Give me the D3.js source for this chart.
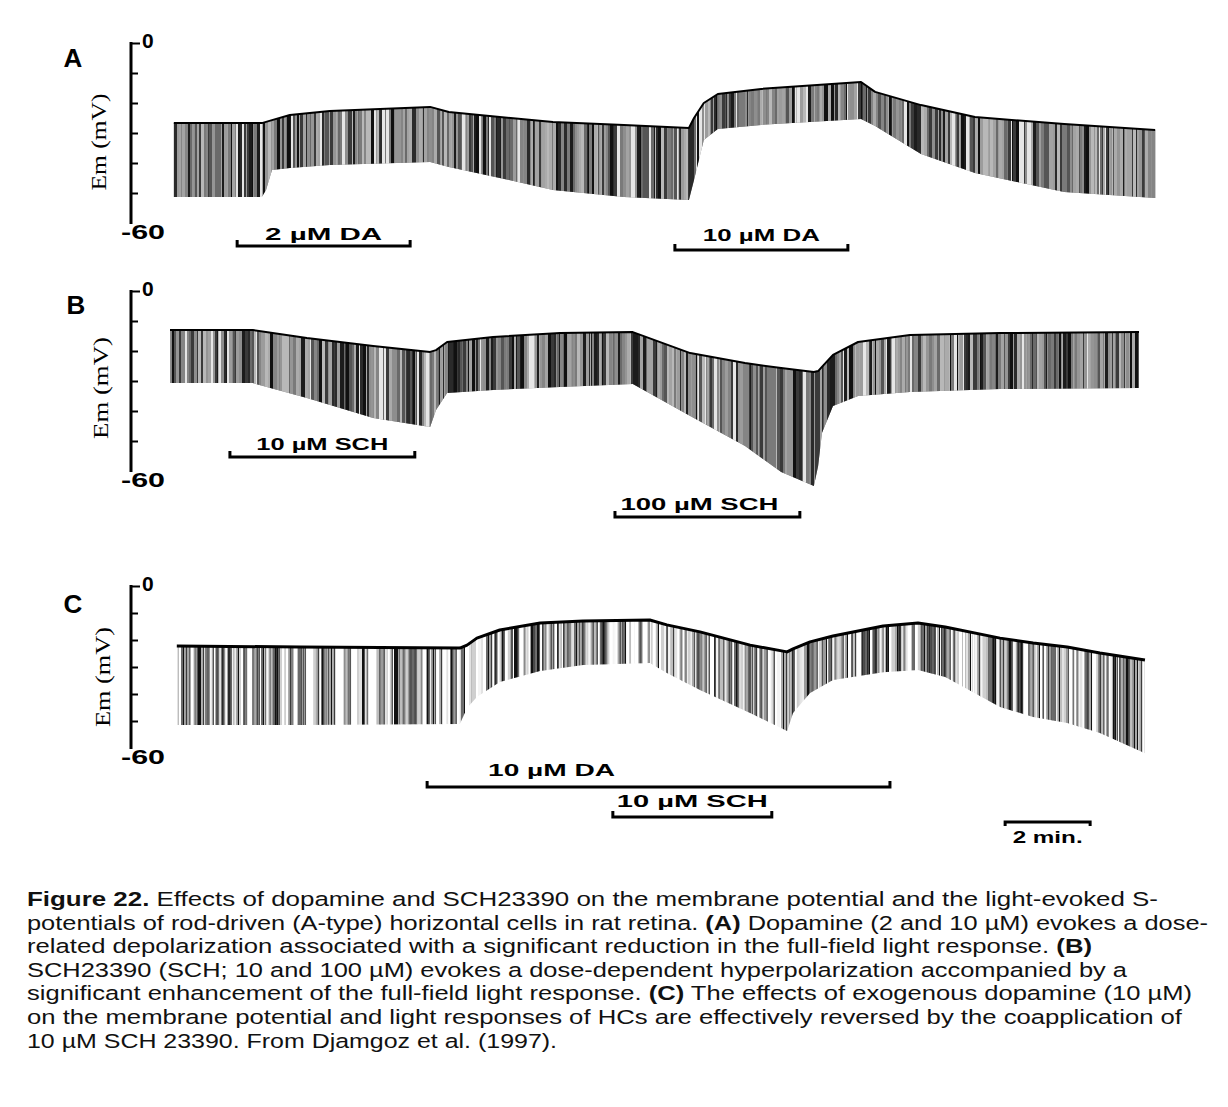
<!DOCTYPE html>
<html><head><meta charset="utf-8">
<script src="https://cdn.jsdelivr.net/npm/d3@7"></script>
<style>body{margin:0;background:#fff}svg{display:block}</style>
</head><body>
<svg id="chart" width="1228" height="1107"></svg>
<script>
// ================= DATA =================
const yTickValues = [0, -10, -20, -30, -40, -50, -60];
const yDomain = [0, -60];
const timeDomain = [0, 24]; // minutes

// Panel A  (time in min, membrane potential in mV: top = resting level, bottom = light-response peak)
const aTime   = [0.09, 2.16, 2.26, 2.40, 2.82, 3.76, 6.12, 6.56, 7.76, 9.01, 10.68, 12.21, 12.33, 12.56, 12.89, 13.91, 16.26, 16.59, 17.67, 18.94, 21.04, 23.18];
const aTop    = [-26.7, -26.7, -26.3, -25.7, -24.0, -22.7, -21.3, -23.0, -24.7, -26.3, -27.3, -28.3, -25.0, -20.0, -17.0, -15.3, -13.0, -16.3, -20.7, -24.7, -27.0, -29.0];
const aBottom = [-51.3, -51.3, -49.0, -42.3, -41.7, -40.7, -39.7, -41.3, -45.0, -49.0, -51.3, -52.3, -45.7, -32.3, -28.7, -27.3, -25.3, -27.7, -37.0, -43.3, -49.7, -51.7];

// Panel B
const bTime   = [0.00, 1.95, 3.22, 4.78, 6.12, 6.26, 6.52, 7.60, 9.18, 10.89, 12.24, 13.53, 14.38, 15.15, 15.25, 15.34, 15.60, 16.19, 17.41, 19.53, 22.80];
const bTop    = [-13.0, -13.0, -15.7, -18.3, -20.3, -19.7, -17.0, -15.3, -14.0, -13.7, -20.7, -24.0, -25.7, -27.0, -26.7, -25.3, -21.3, -17.0, -14.7, -14.0, -13.7];
const bBottom = [-30.7, -30.7, -35.7, -42.3, -45.3, -39.7, -34.0, -33.0, -32.0, -31.0, -41.7, -51.7, -60.3, -65.0, -58.3, -47.3, -38.3, -35.0, -33.7, -32.7, -32.3];

// Panel C
const cTime   = [0.16, 3.06, 6.82, 6.99, 7.22, 7.76, 8.71, 9.72, 11.29, 11.69, 12.47, 13.65, 14.52, 14.66, 15.06, 15.60, 16.78, 17.60, 18.24, 19.53, 20.31, 21.11, 21.88, 22.94];
const cTop    = [-22.2, -22.6, -23.0, -21.9, -19.3, -16.3, -13.7, -13.0, -12.6, -14.4, -17.0, -21.9, -24.4, -23.3, -20.7, -18.5, -14.8, -13.7, -15.2, -19.3, -21.1, -22.6, -24.8, -27.4];
const cBottom = [-51.5, -51.5, -51.1, -45.2, -41.1, -35.6, -31.5, -29.3, -28.5, -32.2, -38.5, -47.0, -53.7, -47.0, -39.6, -34.8, -31.9, -31.1, -33.7, -44.8, -48.5, -50.7, -54.4, -61.9];

// Drug applications (minutes)
const aDrugLabels = ["2 µM DA", "10 µM DA"];
const aDrugStart  = [1.58, 11.88];
const aDrugEnd    = [5.65, 15.95];
const bDrugLabels = ["10 µM SCH", "100 µM SCH"];
const bDrugStart  = [1.41, 10.47];
const bDrugEnd    = [5.76, 14.82];
const cDrugLabels = ["10 µM DA", "10 µM SCH"];
const cDrugStart  = [6.05, 10.42];
const cDrugEnd    = [16.94, 14.16];

const scaleBarLabel = "2 min.";
const scaleBarStart = 19.65;
const scaleBarLength = 2;

const panelLetters = ["A", "B", "C"];
const yAxisTitle = "Em (mV)";

const captionLines = [
  [["Figure 22.", true], [" Effects of dopamine and SCH23390 on the membrane potential and the light-evoked S-", false]],
  [["potentials of rod-driven (A-type) horizontal cells in rat retina. ", false], ["(A)", true], [" Dopamine (2 and 10 µM) evokes a dose-", false]],
  [["related depolarization associated with a significant reduction in the full-field light response. ", false], ["(B)", true]],
  [["SCH23390 (SCH; 10 and 100 µM) evokes a dose-dependent hyperpolarization accompanied by a", false]],
  [["significant enhancement of the full-field light response. ", false], ["(C)", true], [" The effects of exogenous dopamine (10 µM)", false]],
  [["on the membrane potential and light responses of HCs are effectively reversed by the coapplication of", false]],
  [["10 µM SCH 23390. From Djamgoz et al. (1997).", false]]
];

// ================= LAYOUT =================
const layout = {
  A: {y0: 43,  y1: 223, letter: [73, 67],  title: [98, 142],  titleLen: 97,  style: "dense", seed: 1,
      bars: [{y: 246, ly: -6, lx: 0, lw: 117}, {y: 250, ly: -9, lx: 0, lw: 117}]},
  B: {y0: 291, y1: 471, letter: [76, 314], title: [100, 388], titleLen: 102, style: "dense", seed: 2,
      bars: [{y: 457, ly: -7, lx: 0, lw: 132}, {y: 517, ly: -7, lx: -8, lw: 158}]},
  C: {y0: 586, y1: 748, letter: [73, 613], title: [102, 677], titleLen: 100, style: "light", seed: 3,
      bars: [{y: 787, ly: -11, lx: -107, lw: 127}, {y: 817, ly: -10, lx: 0, lw: 151}]}
};
const axisX = 131;
const captionWidths = [1131, 1181, 1065, 1100, 1165, 1155, 530];

// ================= DRAW =================
const svg = d3.select("#chart");
const x = d3.scaleLinear().domain(timeDomain).range([170, 1190]);
const sans = "'Liberation Sans', Arial, Helvetica, sans-serif";
const serif = "'Liberation Serif', 'Times New Roman', serif";

const panels = [
  {key: "A", time: aTime, top: aTop, bottom: aBottom, labels: aDrugLabels, s: aDrugStart, e: aDrugEnd},
  {key: "B", time: bTime, top: bTop, bottom: bBottom, labels: bDrugLabels, s: bDrugStart, e: bDrugEnd},
  {key: "C", time: cTime, top: cTop, bottom: cBottom, labels: cDrugLabels, s: cDrugStart, e: cDrugEnd}
];

function hash(i, seed) {
  const v = Math.sin(i * 12.9898 + seed * 78.233) * 43758.5453;
  return v - Math.floor(v);
}
const densePalette = ["#101010", "#1c1c1c", "#2a2a2a", "#3a3a3a", "#555", "#6a6a6a", "#7a7a7a", "#858585", "#8e8e8e", "#959595", "#9c9c9c", "#a3a3a3", "#ababab", "#b8b8b8", "#e6e6e6"];
const lightPalette = ["#fff", "#fff", "#fff", "#f4f4f4", "#e2e2e2", "#cfcfcf", "#bdbdbd", "#a8a8a8", "#9a9a9a", "#6a6a6a", "#2a2a2a", "#111"];

const defs = svg.append("defs");

panels.forEach((p, pi) => {
  const L = layout[p.key];
  const y = d3.scaleLinear().domain(yDomain).range([L.y0, L.y1]);
  const data = p.time.map((t, i) => ({t, top: p.top[i], bottom: p.bottom[i]}));
  const g = svg.append("g");

  // clip area (response envelope)
  const area = d3.area().x(d => x(d.t)).y0(d => y(d.bottom)).y1(d => y(d.top));
  defs.append("clipPath").attr("id", "clip" + p.key)
    .append("path").attr("d", area(data));

  const sg = g.append("g").attr("clip-path", `url(#clip${p.key})`);
  const x0 = Math.floor(x(data[0].t)), x1 = Math.ceil(x(data[data.length - 1].t));
  const pal = L.style === "dense" ? densePalette : lightPalette;
  sg.append("rect").attr("x", x0).attr("y", L.y0 - 40).attr("width", x1 - x0)
    .attr("height", L.y1 - L.y0 + 120).attr("fill", L.style === "dense" ? "#8c8c8c" : "#fff");
  let xx = x0, i = 0;
  while (xx < x1) {
    const r1 = hash(i, L.seed), r2 = hash(i + 5000, L.seed);
    const w = L.style === "dense" ? 1 + Math.floor(r1 * 3) : 1 + Math.floor(r1 * 2.2);
    const col = pal[Math.floor(r2 * pal.length)];
    sg.append("rect").attr("x", xx).attr("y", L.y0 - 40).attr("width", w)
      .attr("height", L.y1 - L.y0 + 120).attr("fill", col);
    if (L.style === "light" && r2 > 0.55) {
      sg.append("rect").attr("x", xx + w).attr("y", L.y0 - 40).attr("width", 1.2)
        .attr("height", L.y1 - L.y0 + 120).attr("fill", r1 > 0.5 ? "#111" : "#555");
      xx += 1.2;
    }
    xx += w; i++;
  }

  // top edge (resting membrane potential)
  g.append("path").attr("d", d3.line().x(d => x(d.t)).y(d => y(d.top))(data))
    .attr("fill", "none").attr("stroke", "#000")
    .attr("stroke-width", L.style === "dense" ? 2 : 3).attr("stroke-linejoin", "round");

  // y axis
  const axis = d3.axisRight(y).tickValues(yTickValues).tickSize(7).tickPadding(3)
    .tickFormat(d => d === 0 ? "0" : "");
  const ag = g.append("g").attr("transform", `translate(${axisX},0)`).call(axis);
  ag.select(".domain").attr("stroke", "#000").attr("stroke-width", 3)
    .attr("d", `M0,${L.y0 - 1}V${L.y1 + 1}`);
  ag.selectAll(".tick line").attr("stroke", "#000").attr("stroke-width", 2);
  ag.selectAll(".tick").filter(d => d === 0).select("line").attr("x2", 9);
  ag.selectAll(".tick").filter(d => d === -60).select("line").remove();
  ag.selectAll(".tick text").attr("font-family", sans).attr("font-weight", "bold")
    .attr("font-size", 21).attr("fill", "#000").attr("x", 11).attr("dy", "0.2em");
  g.append("text").attr("x", axisX + 12).attr("y", L.y1 + 16).attr("text-anchor", "middle")
    .attr("font-family", sans).attr("font-weight", "bold").attr("font-size", 21)
    .attr("textLength", 44).attr("lengthAdjust", "spacingAndGlyphs").text("-60");

  // axis title
  g.append("text").attr("transform", `translate(${L.title[0]},${L.title[1]}) rotate(-90)`)
    .attr("text-anchor", "middle").attr("dy", "0.35em")
    .attr("font-family", serif).attr("font-size", 22)
    .attr("textLength", L.titleLen).attr("lengthAdjust", "spacingAndGlyphs").text(yAxisTitle);

  // panel letter
  g.append("text").attr("x", L.letter[0]).attr("y", L.letter[1]).attr("text-anchor", "middle")
    .attr("font-family", sans).attr("font-weight", "bold").attr("font-size", 26).text(panelLetters[pi]);

  // drug bars
  p.labels.forEach((lab, k) => {
    const B = L.bars[k];
    const xs = x(p.s[k]), xe = x(p.e[k]);
    g.append("path").attr("d", `M${xs},${B.y - 6}V${B.y}H${xe}V${B.y - 6}`)
      .attr("fill", "none").attr("stroke", "#000").attr("stroke-width", 3);
    g.append("text").attr("x", (xs + xe) / 2 + B.lx).attr("y", B.y + B.ly)
      .attr("text-anchor", "middle").attr("font-family", sans).attr("font-weight", "bold")
      .attr("font-size", 17).attr("textLength", B.lw).attr("lengthAdjust", "spacingAndGlyphs")
      .text(lab);
  });
});

// time scale bar
{
  const xs = x(scaleBarStart), xe = x(scaleBarStart + scaleBarLength), yb = 822;
  svg.append("path").attr("d", `M${xs},${yb + 4}V${yb}H${xe}V${yb + 4}`)
    .attr("fill", "none").attr("stroke", "#000").attr("stroke-width", 3);
  svg.append("text").attr("x", (xs + xe) / 2).attr("y", yb + 21).attr("text-anchor", "middle")
    .attr("font-family", sans).attr("font-weight", "bold").attr("font-size", 17)
    .attr("textLength", 70).attr("lengthAdjust", "spacingAndGlyphs").text(scaleBarLabel);
}

// caption
captionLines.forEach((segs, li) => {
  const t = svg.append("text").attr("x", 27).attr("y", 906 + li * 23.6)
    .attr("font-family", sans).attr("font-size", 20.5).attr("fill", "#111")
    .attr("textLength", captionWidths[li]).attr("lengthAdjust", "spacingAndGlyphs");
  segs.forEach(([txt, bold]) => {
    t.append("tspan").attr("font-weight", bold ? "bold" : "normal").text(txt);
  });
});
</script>
</body></html>
